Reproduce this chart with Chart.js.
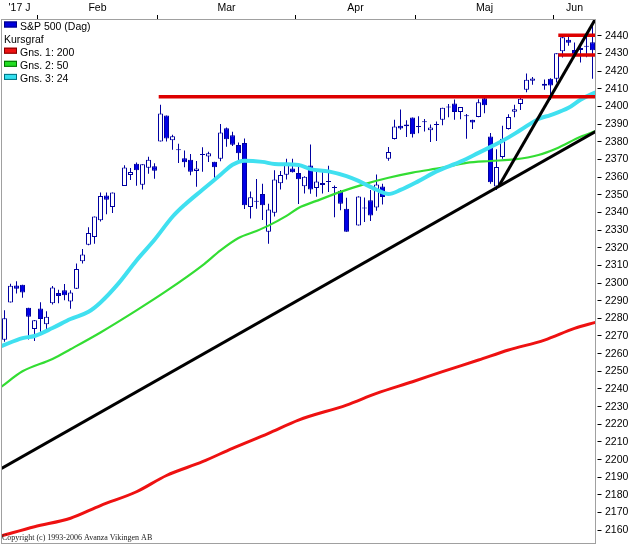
<!DOCTYPE html>
<html>
<head>
<meta charset="utf-8">
<title>S&amp;P 500 (Dag)</title>
<script src="https://cdn.jsdelivr.net/npm/chart.js@4.4.1/dist/chart.umd.min.js"></script>
<style>
  html, body { margin: 0; padding: 0; background: #fff; }
  #wrap { width: 631px; height: 544px; position: relative; }
</style>
</head>
<body>
<div id="wrap"><canvas id="chart"></canvas></div>
<script>
// Weekday slots 2017-01-24 .. 2017-06-09 (market holidays kept as empty slots)
const slotDates = [
  '01-24','01-25','01-26','01-27','01-30','01-31',
  '02-01','02-02','02-03','02-06','02-07','02-08','02-09','02-10','02-13','02-14',
  '02-15','02-16','02-17','02-20','02-21','02-22','02-23','02-24','02-27','02-28',
  '03-01','03-02','03-03','03-06','03-07','03-08','03-09','03-10','03-13','03-14',
  '03-15','03-16','03-17','03-20','03-21','03-22','03-23','03-24','03-27','03-28',
  '03-29','03-30','03-31',
  '04-03','04-04','04-05','04-06','04-07','04-10','04-11','04-12','04-13','04-14',
  '04-17','04-18','04-19','04-20','04-21','04-24','04-25','04-26','04-27','04-28',
  '05-01','05-02','05-03','05-04','05-05','05-08','05-09','05-10','05-11','05-12',
  '05-15','05-16','05-17','05-18','05-19','05-22','05-23','05-24','05-25','05-26',
  '05-29','05-30','05-31',
  '06-01','06-02','06-05','06-06','06-07','06-08','06-09'
];

const opens = [
  2267.9, 2288.9, 2298.6, 2299.0, 2286.0, 2274.0,
  2285.6, 2276.7, 2288.5, 2294.3, 2295.9, 2289.6, 2296.7, 2312.3, 2321.7, 2326.1,
  2335.6, 2349.6, 2343.0, null, 2354.9, 2361.1, 2367.5, 2355.7, 2365.2, 2366.1,
  2380.1, 2394.8, 2380.9, 2375.2, 2370.7, 2369.8, 2363.5, 2372.5, 2371.6, 2368.6,
  2370.3, 2387.7, 2383.7, 2378.2, 2379.3, 2343.0, 2346.0, 2350.4, 2329.1, 2339.8,
  2356.5, 2361.3, 2364.8,
  2362.3, 2354.8, 2366.6, 2353.8, 2356.6, 2357.2, 2353.9, 2352.2, 2342.0, null,
  2332.6, 2342.5, 2346.8, 2342.7, 2354.7, 2370.3, 2381.5, 2389.0, 2389.7, 2393.7,
  2388.5, 2391.1, 2386.5, 2389.8, 2392.4, 2399.9, 2401.6, 2396.8, 2394.8, 2392.4,
  2394.0, 2404.6, 2383.0, 2354.7, 2371.4, 2387.2, 2397.0, 2401.4, 2409.5, 2414.5,
  null, 2411.7, 2415.6,
  2415.7, 2431.3, 2437.8, 2431.9, 2432.0, 2434.3, 2436.4
];
const highs = [
  2284.6, 2299.6, 2301.0, 2299.0, 2286.0, 2279.1,
  2289.1, 2284.0, 2298.3, 2296.2, 2299.4, 2295.9, 2311.1, 2319.2, 2331.6, 2337.6,
  2351.3, 2351.3, 2351.2, null, 2366.7, 2365.1, 2368.3, 2367.3, 2371.5, 2367.8,
  2401.0, 2394.8, 2383.9, 2378.8, 2375.1, 2373.1, 2369.1, 2376.9, 2374.4, 2368.6,
  2390.0, 2388.1, 2385.7, 2379.6, 2381.9, 2351.8, 2358.9, 2356.2, 2344.9, 2363.8,
  2363.4, 2370.4, 2370.4,
  2365.9, 2360.5, 2378.4, 2364.2, 2363.8, 2366.4, 2355.2, 2352.7, 2348.3, null,
  2349.1, 2348.4, 2352.6, 2361.4, 2356.2, 2377.0, 2392.5, 2398.2, 2392.1, 2393.7,
  2394.5, 2392.9, 2389.8, 2391.4, 2399.3, 2401.4, 2403.9, 2399.7, 2395.7, 2392.4,
  2404.1, 2405.8, 2384.9, 2375.7, 2389.1, 2395.5, 2400.9, 2405.6, 2418.7, 2416.7,
  null, 2415.3, 2416.0,
  2430.1, 2440.2, 2439.6, 2436.2, 2435.3, 2439.3, 2446.2
];
const lows = [
  2266.7, 2288.9, 2294.1, 2291.6, 2268.0, 2267.2,
  2272.4, 2271.7, 2287.9, 2288.6, 2290.2, 2285.4, 2296.6, 2311.1, 2321.4, 2322.2,
  2334.8, 2338.9, 2339.6, null, 2354.9, 2358.3, 2355.1, 2352.9, 2361.9, 2359.0,
  2380.1, 2380.2, 2375.4, 2368.0, 2365.5, 2361.0, 2354.5, 2363.0, 2368.5, 2358.2,
  2368.9, 2377.2, 2377.6, 2369.7, 2341.9, 2336.5, 2342.1, 2335.7, 2322.3, 2337.6,
  2352.9, 2358.6, 2362.6,
  2344.7, 2350.7, 2350.5, 2348.9, 2350.7, 2351.5, 2337.3, 2341.2, 2329.0, null,
  2332.5, 2334.5, 2335.1, 2340.9, 2344.5, 2369.2, 2381.2, 2386.8, 2382.7, 2382.4,
  2384.8, 2385.8, 2379.8, 2380.4, 2389.4, 2393.9, 2392.4, 2392.8, 2381.7, 2387.2,
  2393.9, 2396.1, 2356.2, 2352.7, 2370.4, 2386.9, 2393.9, 2398.0, 2408.0, 2412.2,
  null, 2409.4, 2403.6,
  2413.5, 2427.7, 2434.3, 2428.1, 2424.8, 2427.9, 2415.7
];
const closes = [
  2280.1, 2298.4, 2296.7, 2294.7, 2280.9, 2278.9,
  2279.6, 2280.9, 2297.4, 2292.6, 2293.1, 2294.7, 2307.9, 2316.1, 2328.3, 2337.6,
  2349.3, 2347.2, 2351.2, null, 2365.4, 2362.8, 2363.8, 2367.3, 2369.8, 2363.6,
  2396.0, 2381.9, 2383.1, 2375.3, 2368.4, 2363.0, 2364.9, 2372.6, 2373.5, 2365.5,
  2385.3, 2381.4, 2378.3, 2373.5, 2344.0, 2348.5, 2346.0, 2344.0, 2341.6, 2358.6,
  2361.1, 2368.1, 2362.7,
  2358.8, 2360.2, 2353.0, 2357.5, 2355.5, 2357.2, 2353.8, 2344.9, 2329.0, null,
  2349.0, 2342.2, 2338.2, 2355.8, 2348.7, 2374.2, 2388.6, 2387.5, 2388.8, 2384.2,
  2388.3, 2391.2, 2388.1, 2389.5, 2399.3, 2399.4, 2396.9, 2399.6, 2394.4, 2390.9,
  2402.3, 2400.7, 2357.0, 2365.7, 2381.7, 2394.0, 2398.4, 2404.4, 2415.1, 2415.8,
  null, 2412.9, 2411.8,
  2430.1, 2439.1, 2436.1, 2429.3, 2433.1, 2433.8, 2431.8
];

// Moving averages (slot, value)
const ma24Slots  = [-0.5, 3, 5, 8, 11, 14, 16, 19, 22, 25, 28, 30, 33, 36, 38, 40, 43, 45, 49, 51, 54, 57, 59, 62, 64, 66, 69, 72, 76, 79, 83, 86, 89, 91, 94, 96, 98.5];
const ma24Values = [2264.3, 2268.8, 2270.0, 2274.5, 2279.6, 2283.7, 2289.0, 2299.8, 2312.8, 2324.5, 2337.5, 2344.2, 2352.8, 2361.3, 2367.0, 2369.3, 2368.6, 2367.4, 2366.8, 2364.5, 2363.2, 2360.5, 2357.8, 2352.8, 2350.4, 2352.7, 2357.7, 2363.2, 2368.7, 2373.7, 2380.5, 2386.6, 2392.9, 2395.1, 2399.2, 2403.8, 2408.0];

const ma50Slots  = [-0.5, 3, 8, 11, 16, 22, 27, 33, 36, 39, 42, 44, 47, 49, 52, 56, 60, 64, 68, 73, 77, 81, 85, 89, 92, 96, 98.5];
const ma50Values = [2241.3, 2250.0, 2257.0, 2262.5, 2272.0, 2284.5, 2295.5, 2310.0, 2318.5, 2325.5, 2329.5, 2332.5, 2338.0, 2342.5, 2346.5, 2351.6, 2356.0, 2359.6, 2362.5, 2365.3, 2368.0, 2369.1, 2370.0, 2372.5, 2376.2, 2382.8, 2386.0];

const ma200Slots  = [-0.5, 5, 11, 16, 22, 27, 33, 38, 44, 49, 57, 62, 68, 73, 79, 84, 90, 95, 98.5];
const ma200Values = [2156.8, 2162.0, 2166.8, 2174.0, 2181.8, 2191.0, 2198.8, 2206.4, 2214.9, 2222.4, 2230.9, 2237.5, 2244.1, 2249.8, 2256.4, 2262.1, 2267.7, 2274.3, 2277.7];

// Drawn trend lines and levels (slot, value)
const trendLong  = [[-0.5, 2195.0], [98.5, 2385.7]];
const trendSteep = [[82.4, 2354.9], [98.5, 2449.6]];
const levelMain  = [[25.7, 2405.5], [98.5, 2405.5]];
const levelTop   = [[92.3, 2440.3], [98.5, 2440.3]];
const levelLow   = [[92.3, 2429.1], [98.5, 2429.1]];

// Axes
const monthNames  = ["'17 J", 'Feb', 'Mar', 'Apr', 'Maj', 'Jun'];
const monthStarts = [0, 6, 26, 49, 69, 92];
const lastSlot = 98;
const priceTicks = [2160, 2170, 2180, 2190, 2200, 2210, 2220, 2230, 2240, 2250, 2260, 2270, 2280, 2290, 2300,
  2310, 2320, 2330, 2340, 2350, 2360, 2370, 2380, 2390, 2400, 2410, 2420, 2430, 2440];

const CANDLE_EDGE = '#0000a0';
const CANDLE_FILL = '#0000e6';
const FONT = 'Liberation Sans';

// Build candle bodies and wicks
const bodyData = [];
const wickData = [];
const bodyFill = [];
slotDates.forEach((d, i) => {
  if (opens[i] == null) return;
  bodyData.push({ x: i, y: [opens[i], closes[i]] });
  wickData.push({ x: i, y: [lows[i], highs[i]] });
  bodyFill.push(closes[i] >= opens[i] ? '#ffffff' : CANDLE_FILL);
});

const toPoints = (xs, ys) => xs.map((x, i) => ({ x: x, y: ys[i] }));
const pairPoints = (arr) => arr.map(p => ({ x: p[0], y: p[1] }));

function lineSet(label, data, color, width, order, smooth) {
  return {
    type: 'line', label: label, data: data,
    borderColor: color, borderWidth: width,
    pointRadius: 0, fill: false, order: order,
    cubicInterpolationMode: smooth ? 'monotone' : 'default',
    tension: 0
  };
}

// Month ticks: boundaries carry the tick marks, centres carry the names
function monthTicks() {
  const ticks = [];
  monthStarts.forEach((s, m) => {
    if (m > 0) ticks.push({ value: s - 0.5, boundary: true });
    const end = m < monthStarts.length - 1 ? monthStarts[m + 1] - 0.5 : lastSlot + 0.5;
    ticks.push({ value: (s - 0.5 + end) / 2, name: monthNames[m] });
  });
  return ticks.sort((a, b) => a.value - b.value);
}

const framePlugin = {
  id: 'frame',
  afterDraw(chart) {
    const { ctx, chartArea: a } = chart;
    ctx.save();
    ctx.strokeStyle = '#a0a0a0';
    ctx.lineWidth = 1;
    ctx.strokeRect(a.left, a.top + 0.5, a.right - a.left, a.bottom - a.top - 0.5);
    ctx.restore();
  }
};

const legendItems = [
  { text: 'S&P 500 (Dag)', fill: '#0000dd', edge: '#000080' },
  { text: 'Kursgraf' },
  { text: 'Gns. 1: 200', fill: '#ee1111', edge: '#800000' },
  { text: 'Gns. 2: 50', fill: '#22dd22', edge: '#007000' },
  { text: 'Gns. 3: 24', fill: '#33e0f0', edge: '#007080' }
];

const notesPlugin = {
  id: 'notes',
  afterDraw(chart) {
    const ctx = chart.ctx;
    ctx.save();
    ctx.font = '10.5px "' + FONT + '"';
    ctx.textBaseline = 'alphabetic';
    legendItems.forEach((it, i) => {
      const base = 29.5 + i * 13.1;
      if (it.fill) {
        ctx.fillStyle = it.fill;
        ctx.fillRect(4, base - 8, 13, 6);
        ctx.strokeStyle = it.edge;
        ctx.lineWidth = 1;
        ctx.strokeRect(4.5, base - 7.5, 12, 5);
        ctx.fillStyle = '#000';
        ctx.fillText(it.text, 20, base);
      } else {
        ctx.fillStyle = '#000';
        ctx.fillText(it.text, 4, base);
      }
    });
    ctx.font = '8px "Liberation Serif"';
    ctx.fillStyle = '#222';
    ctx.fillText('Copyright (c) 1993-2006 Avanza Vikingen AB', 2, 540);
    ctx.restore();
  }
};

new Chart(document.getElementById('chart'), {
  type: 'bar',
  data: {
    datasets: [
      lineSet('Trend 1', pairPoints(trendLong), '#000000', 3, 0, false),
      lineSet('Trend 2', pairPoints(trendSteep), '#000000', 3, 0, false),
      lineSet('Nivå', pairPoints(levelMain), '#dd0000', 3.5, 0, false),
      lineSet('Nivå topp', pairPoints(levelTop), '#dd0000', 3.5, 0, false),
      lineSet('Nivå botten', pairPoints(levelLow), '#dd0000', 3.5, 0, false),
      lineSet('Gns. 3: 24', toPoints(ma24Slots, ma24Values), '#40e0f0', 4, 1, true),
      lineSet('Gns. 2: 50', toPoints(ma50Slots, ma50Values), '#33dd33', 2.2, 1, true),
      lineSet('Gns. 1: 200', toPoints(ma200Slots, ma200Values), '#ee1111', 3, 1, true),
      {
        label: 'S&P 500 (Dag)', data: bodyData, order: 2,
        backgroundColor: bodyFill, borderColor: CANDLE_EDGE, borderWidth: 1,
        borderSkipped: false, barThickness: 5, minBarLength: 1,
        grouped: false, inflateAmount: 0
      },
      {
        label: 'Veke', data: wickData, order: 3,
        backgroundColor: CANDLE_EDGE, borderWidth: 0,
        barThickness: 1, grouped: false, inflateAmount: 0
      }
    ]
  },
  options: {
    responsive: true,
    maintainAspectRatio: false,
    animation: false,
    events: [],
    layout: { padding: { left: 1.5, top: 0, right: 0, bottom: 0.5 } },
    plugins: { legend: { display: false }, tooltip: { enabled: false } },
    scales: {
      x: {
        type: 'linear', position: 'top',
        min: -0.5, max: lastSlot + 0.5,
        offset: false,
        afterFit: s => { s.height = 19; s.paddingLeft = 0; s.paddingRight = 0; },
        afterBuildTicks: s => { s.ticks = monthTicks(); },
        border: { color: '#a0a0a0', width: 1 },
        grid: {
          offset: false, drawOnChartArea: false, drawTicks: true, tickLength: 4,
          color: c => (c.tick && c.tick.boundary) ? '#000000' : 'rgba(0,0,0,0)'
        },
        ticks: {
          autoSkip: false, maxRotation: 0, minRotation: 0, padding: 1,
          color: '#000', font: { family: FONT, size: 10.5 },
          callback: (v, i, ticks) => ticks[i].name || ''
        }
      },
      y: {
        type: 'linear', position: 'right',
        min: 2152.5, max: 2449.5,
        afterFit: s => { s.width = 35.5; s.paddingTop = 0; s.paddingBottom = 0; },
        afterBuildTicks: s => { s.ticks = priceTicks.map(v => ({ value: v })); },
        border: { color: '#a0a0a0', width: 1 },
        grid: {
          drawOnChartArea: false, drawTicks: true, tickLength: 6,
          color: '#000000', tickBorderDash: [0, 1.5, 4.5, 30]
        },
        ticks: {
          autoSkip: false, padding: 3.5,
          color: '#000', font: { family: FONT, size: 10.5 },
          callback: v => String(v)
        }
      }
    }
  },
  plugins: [framePlugin, notesPlugin]
});
</script>
</body>
</html>
